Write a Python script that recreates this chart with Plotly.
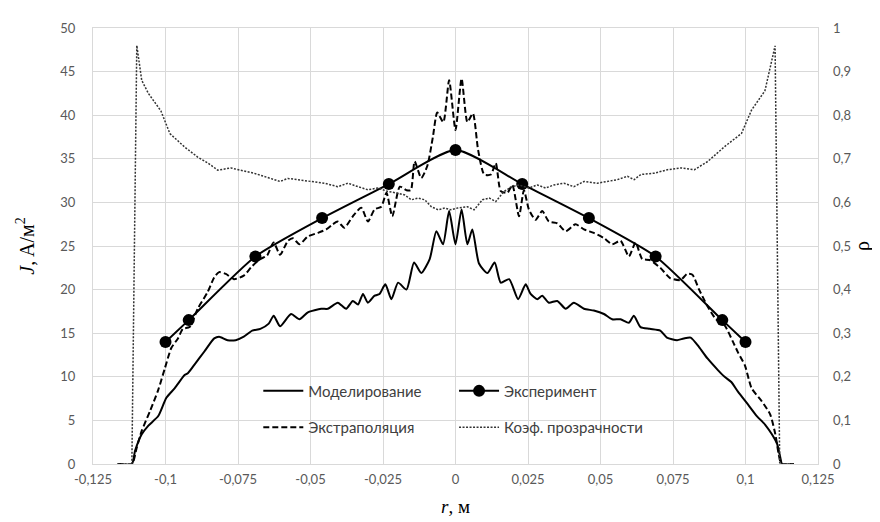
import plotly.graph_objects as go

# --- data ---
r_model = [-0.1165, -0.1116, -0.1105, -0.1082, -0.1059, -0.1025, -0.0997, -0.0968, -0.0934, -0.0923,
           -0.0900, -0.0866, -0.0832, -0.0815, -0.0786, -0.0758, -0.0730, -0.0701, -0.0673, -0.0644,
           -0.0627, -0.0605, -0.0567, -0.0538, -0.0509, -0.0463, -0.0440, -0.0406, -0.0377, -0.0354,
           -0.0336, -0.0319, -0.0302, -0.0279, -0.0262, -0.0242, -0.0221, -0.0198, -0.0169, -0.0143,
           -0.0118, -0.0089, -0.0066, -0.0043, -0.0022, 0.0, 0.0021, 0.0041, 0.0058, 0.0081,
           0.0110, 0.0135, 0.0156, 0.0185, 0.0216, 0.0242, 0.0259, 0.0282, 0.0299, 0.0322,
           0.0351, 0.0380, 0.0408, 0.0443, 0.0477, 0.0512, 0.0540, 0.0569, 0.0598, 0.0615,
           0.0638, 0.0670, 0.0706, 0.0729, 0.0764, 0.0787, 0.0811, 0.0840, 0.0869, 0.0904,
           0.0928, 0.0951, 0.0974, 0.1009, 0.1039, 0.1068, 0.1091, 0.1109, 0.1120, 0.1126, 0.1167]
j_model = [0, 0, 1.5, 3.4, 4.4, 5.5, 7.6, 8.7, 10.2, 10.4,
           11.4, 12.9, 14.4, 14.6, 14.2, 14.2, 14.6, 15.3, 15.5, 16.1,
           17.0, 15.8, 17.2, 16.6, 17.4, 17.8, 17.8, 18.5, 17.8, 18.7,
           18.3, 19.5, 18.5, 19.3, 19.5, 20.6, 18.9, 20.8, 20.0, 23.1,
           21.9, 23.5, 26.7, 25.2, 29.0, 25.2, 29.2, 25.2, 26.9, 23.0,
           21.9, 23.1, 20.8, 21.2, 18.9, 20.6, 19.5, 18.9, 19.3, 18.5,
           18.7, 17.8, 18.5, 17.8, 17.6, 17.2, 16.6, 16.6, 16.2, 17.0,
           15.7, 15.5, 15.3, 14.5, 14.2, 14.4, 14.5, 13.4, 12.1, 10.8,
           10.0, 9.4, 8.3, 6.8, 5.5, 4.5, 3.4, 2.3, 0.75, 0, 0]

r_extrap = [-0.1165, -0.1116, -0.1099, -0.1082, -0.1053, -0.1025, -0.1002, -0.0980, -0.0957, -0.0940,
            -0.0917, -0.0889, -0.0855, -0.0832, -0.0815, -0.0792, -0.0764, -0.0730, -0.0701, -0.0673,
            -0.0650, -0.0627, -0.0605, -0.0578, -0.0561, -0.0538, -0.0509, -0.0475, -0.0446, -0.0423,
            -0.0406, -0.0383, -0.0354, -0.0325, -0.0302, -0.0279, -0.0256, -0.0238, -0.0218, -0.0192,
            -0.0169, -0.0154, -0.0141, -0.0118, -0.0097, -0.0078, -0.0063, -0.0042, -0.0022, 0.0,
            0.0021, 0.0041, 0.0060, 0.0078, 0.0099, 0.0122, 0.0139, 0.0156, 0.0179, 0.0196,
            0.0219, 0.0236, 0.0253, 0.0276, 0.0299, 0.0322, 0.0351, 0.0380, 0.0414, 0.0443,
            0.0477, 0.0512, 0.0540, 0.0569, 0.0598, 0.0621, 0.0644, 0.0670, 0.0706, 0.0741,
            0.0776, 0.0799, 0.0817, 0.0840, 0.0869, 0.0898, 0.0928, 0.0957, 0.0974, 0.0998,
            0.1021, 0.1056, 0.1085, 0.1103, 0.1114, 0.1124, 0.1165]
j_extrap = [0, 0, 1.9, 3.8, 6.1, 8.5, 11.0, 13.3, 14.4, 15.5,
            15.7, 17.8, 19.7, 21.4, 22.0, 21.8, 21.2, 21.6, 22.7, 23.5,
            23.9, 25.4, 24.0, 25.6, 25.9, 25.2, 26.1, 26.5, 26.9, 27.5,
            27.8, 27.1, 28.4, 29.4, 27.8, 29.2, 29.5, 31.1, 28.4, 31.8,
            31.4, 31.4, 34.7, 32.8, 34.2, 37.5, 40.3, 39.2, 44.0, 38.3,
            44.2, 39.2, 40.2, 36.0, 33.2, 33.2, 34.5, 31.3, 31.1, 32.0,
            28.4, 31.4, 29.2, 28.0, 29.0, 27.8, 27.6, 26.7, 27.5, 26.9,
            26.5, 25.9, 25.2, 25.6, 23.8, 25.4, 23.5, 23.4, 22.5, 21.3,
            21.1, 21.8, 21.7, 20.0, 18.1, 16.6, 15.9, 14.0, 12.8, 11.3,
            8.7, 7.2, 5.7, 3.4, 1.2, 0, 0]

r_exp = [-0.1, -0.092, -0.069, -0.046, -0.023, 0.0, 0.023, 0.046, 0.069, 0.092, 0.1]
j_exp = [14.0, 16.5, 23.8, 28.2, 32.1, 36.0, 32.1, 28.2, 23.8, 16.5, 14.0]

r_transp = [-0.1165, -0.1116, -0.1099, -0.1082, -0.1059, -0.1016, -0.0985, -0.0934, -0.0889, -0.0853,
            -0.0820, -0.0775, -0.0695, -0.0627, -0.0605, -0.0578, -0.0544, -0.0498, -0.0452, -0.0406,
            -0.0371, -0.0336, -0.0302, -0.0267, -0.0233, -0.0198, -0.0175, -0.0152, -0.0129, -0.0106,
            -0.0083, -0.0060, -0.0037, -0.0017, 0.0007, 0.0041, 0.0064, 0.0093, 0.0116, 0.0139,
            0.0167, 0.0196, 0.0219, 0.0253, 0.0282, 0.0311, 0.0339, 0.0374, 0.0408, 0.0443,
            0.0489, 0.0523, 0.0557, 0.0593, 0.0616, 0.0639, 0.0685, 0.0731, 0.0778, 0.0824,
            0.0870, 0.0928, 0.0986, 0.1021, 0.1067, 0.1102, 0.1118, 0.1165]
rho_transp = [0, 0, 0.96, 0.88, 0.85, 0.81, 0.758, 0.727, 0.704, 0.69,
              0.674, 0.679, 0.667, 0.654, 0.648, 0.655, 0.652, 0.648, 0.644, 0.636,
              0.644, 0.636, 0.629, 0.633, 0.625, 0.621, 0.617, 0.606, 0.610, 0.606,
              0.590, 0.583, 0.587, 0.583, 0.587, 0.590, 0.583, 0.606, 0.610, 0.602,
              0.625, 0.636, 0.640, 0.633, 0.640, 0.633, 0.640, 0.644, 0.636, 0.648,
              0.644, 0.648, 0.652, 0.660, 0.652, 0.664, 0.667, 0.675, 0.679, 0.675,
              0.694, 0.728, 0.758, 0.812, 0.856, 0.959, 0, 0]

x_tickvals = [-0.125, -0.1, -0.075, -0.05, -0.025, 0, 0.025, 0.05, 0.075, 0.1, 0.125]
x_ticktext = ["-0,125", "-0,1", "-0,075", "-0,05", "-0,025", "0", "0,025", "0,05", "0,075", "0,1", "0,125"]
y_tickvals = [0, 5, 10, 15, 20, 25, 30, 35, 40, 45, 50]
y2_tickvals = [0, 0.1, 0.2, 0.3, 0.4, 0.5, 0.6, 0.7, 0.8, 0.9, 1]
y2_ticktext = ["0", "0,1", "0,2", "0,3", "0,4", "0,5", "0,6", "0,7", "0,8", "0,9", "1"]

TICK_FONT = dict(family="Lato, 'Open Sans', sans-serif", size=13, color="#595959")
GRID = "#d9d9d9"

fig = go.Figure()

fig.add_trace(go.Scatter(
    x=r_model, y=j_model, name="Моделирование", mode="lines",
    line=dict(color="black", width=2, shape="spline", smoothing=0.6),
    legend="legend", legendgroup="g1"))
fig.add_trace(go.Scatter(
    x=r_extrap, y=j_extrap, name="Экстраполяция", mode="lines",
    line=dict(color="black", width=2, dash="6px,3px", shape="spline", smoothing=0.6),
    legend="legend", legendgroup="g2"))
fig.add_trace(go.Scatter(
    x=r_exp, y=j_exp, name="Эксперимент", mode="lines+markers",
    line=dict(color="black", width=2, shape="spline", smoothing=0.6),
    marker=dict(color="black", size=12, symbol="circle"),
    legend="legend2", legendgroup="g3"))
fig.add_trace(go.Scatter(
    x=r_transp, y=rho_transp, name="Коэф. прозрачности", mode="lines", yaxis="y2",
    line=dict(color="#333333", width=1.5, dash="2px,1.5px"),
    legend="legend2", legendgroup="g4"))

legend_common = dict(
    bgcolor="rgba(0,0,0,0)", traceorder="grouped", tracegroupgap=14,
    font=dict(family="Lato, 'Open Sans', sans-serif", size=15, color="#404040"),
    xanchor="left", yanchor="top", itemwidth=40,
)

fig.update_layout(
    width=880, height=522,
    margin=dict(l=85, r=70, t=17, b=66),
    paper_bgcolor="white", plot_bgcolor="white",
    legend=dict(x=0.228, y=0.205, **legend_common),
    legend2=dict(x=0.498, y=0.205, **legend_common),
    xaxis=dict(
        range=[-0.125, 0.125], tickvals=x_tickvals, ticktext=x_ticktext,
        showgrid=True, gridcolor=GRID, gridwidth=1, zeroline=False,
        showline=True, linecolor=GRID, mirror=True,
        tickfont=TICK_FONT, ticklabelstandoff=3,
        title=dict(text="<i>r</i>, м", font=dict(family="Liberation Serif, serif", size=19, color="black"),
                   standoff=14),
    ),
    yaxis=dict(
        range=[0, 50], tickvals=y_tickvals,
        showgrid=True, gridcolor=GRID, gridwidth=1, zeroline=False,
        showline=True, linecolor=GRID, mirror=True,
        tickfont=TICK_FONT, ticklabelstandoff=14,
        title=dict(text="<i>J</i>, A/м<sup>2</sup>",
                   font=dict(family="Liberation Serif, serif", size=20, color="black"), standoff=20),
    ),
    yaxis2=dict(
        range=[0, 1], tickvals=y2_tickvals, ticktext=y2_ticktext,
        overlaying="y", side="right", showgrid=False, zeroline=False,
        tickfont=TICK_FONT, ticklabelstandoff=14,
        title=dict(text="ρ", font=dict(family="Liberation Serif, serif", size=20, color="black"), standoff=4),
    ),
)

fig.write_html("out.html")
